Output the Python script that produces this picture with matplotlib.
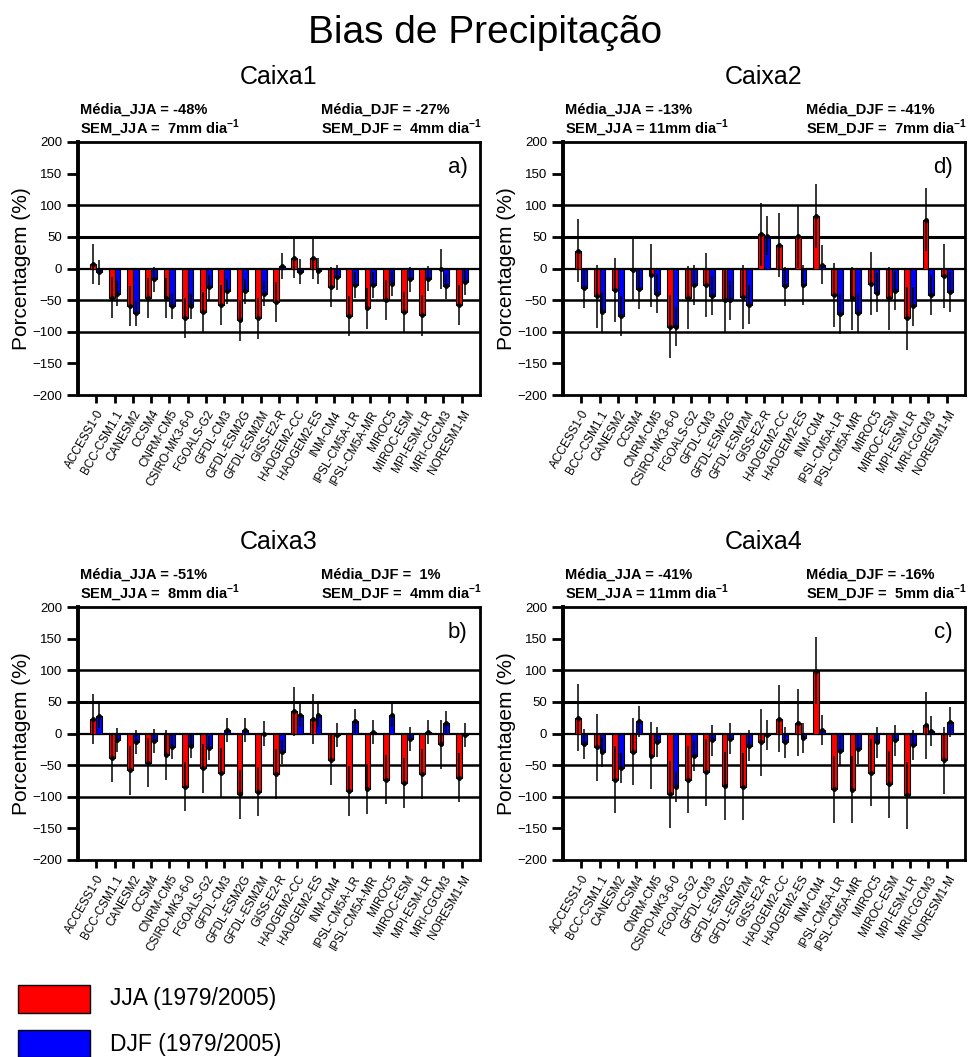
import numpy as np
import matplotlib.pyplot as plt
from matplotlib.patches import Rectangle

plt.rcParams['font.family'] = ['Liberation Sans', 'DejaVu Sans']
plt.rcParams['mathtext.fontset'] = 'custom'
plt.rcParams['mathtext.rm'] = 'Liberation Sans'
plt.rcParams['mathtext.bf'] = 'Liberation Sans:bold'

models = ['ACCESS1-0', 'BCC-CSM1.1', 'CANESM2', 'CCSM4', 'CNRM-CM5', 'CSIRO-MK3-6-0',
          'FGOALS-G2', 'GFDL-CM3', 'GFDL-ESM2G', 'GFDL-ESM2M', 'GISS-E2-R', 'HADGEM2-CC',
          'HADGEM2-ES', 'INM-CM4', 'IPSL-CM5A-LR', 'IPSL-CM5A-MR', 'MIROC5', 'MIROC-ESM',
          'MPI-ESM-LR', 'MRI-CGCM3', 'NORESM1-M']

# bias (%) por modelo, JJA e DJF
caixa1_jja = [7, -46, -59, -47, -47, -78, -69, -58, -82, -79, -53, 17, 16, -29, -75, -63, -50, -69, -74, -1, -58]
caixa1_djf = [-6, -40, -71, -17, -60, -60, -30, -36, -36, -40, 4, -5, -4, -14, -26, -26, -24, -17, -16, -28, -22]
caixa2_jja = [28, -44, -34, -2, -11, -92, -46, -26, -50, -45, 54, 37, 51, 83, -42, -47, -24, -47, -79, 77, -12]
caixa2_djf = [-31, -69, -75, -33, -40, -92, -26, -43, -50, -57, 52, -28, -26, 6, -72, -71, -38, -35, -60, -42, -37]
caixa3_jja = [23, -38, -58, -46, -34, -84, -55, -62, -96, -92, -64, 35, 23, -42, -91, -88, -73, -78, -64, -17, -70]
caixa3_djf = [28, -11, -14, -12, -22, -20, -23, 6, 6, 0, -29, 30, 30, -3, 20, 3, 30, -9, 3, 16, -3]
caixa4_jja = [25, -22, -73, -29, -35, -96, -73, -61, -83, -84, -14, 23, 17, 99, -88, -89, -62, -80, -98, 13, -42]
caixa4_djf = [-17, -29, -55, 19, -13, -85, -35, -11, -8, -19, -2, -14, -7, 6, -28, -25, -14, -11, -18, 4, 18]

# barras de erro (%)
erro_jja = [32, 50, 39, 53]
erro_djf = [20, 31, 19, 24]

titulos = ['Caixa1', 'Caixa2', 'Caixa3', 'Caixa4']
letras = ['a)', 'd)', 'b)', 'c)']
media_jja = ['-48%', '-13%', '-51%', '-41%']
media_djf = ['-27%', '-41%', ' 1%', '-16%']
sem_jja = [' 7', '11', ' 8', '11']
sem_djf = [' 4', ' 7', ' 4', ' 5']

W, H = 970, 1057
fig = plt.figure(figsize=(W / 100, H / 100), dpi=100)

# posicoes dos paineis em pixels (esq, topo)
posicoes = [(78, 142), (563, 142), (78, 607), (563, 607)]
larg, alt = 402, 253

jja_all = [caixa1_jja, caixa2_jja, caixa3_jja, caixa4_jja]
djf_all = [caixa1_djf, caixa2_djf, caixa3_djf, caixa4_djf]

x = np.arange(1, len(models) + 1)
w = 0.32

for i in range(4):
  l, t = posicoes[i]
  ax = fig.add_axes([l / W, (H - t - alt) / H, larg / W, alt / H])
  jja = np.array(jja_all[i])
  djf = np.array(djf_all[i])

  for yv, lw in [(100, 1.8), (50, 2.2), (0, 1.6), (-50, 1.8), (-100, 1.8)]:
    ax.axhline(yv, color='black', lw=lw, zorder=1)

  ax.bar(x - w / 2, jja, width=w, color='#ff0000', edgecolor='black', lw=0.8, zorder=2)
  ax.bar(x + w / 2, djf, width=w, color='#0000ff', edgecolor='black', lw=0.8, zorder=2)
  ax.errorbar(x - w / 2, jja, yerr=erro_jja[i], fmt='none', ecolor='black', elinewidth=1.1, zorder=3)
  ax.errorbar(x + w / 2, djf, yerr=erro_djf[i], fmt='none', ecolor='black', elinewidth=1.1, zorder=3)
  ax.plot(x - w / 2, jja, 'o', color='black', ms=2.5, zorder=4)
  ax.plot(x + w / 2, djf, 'o', color='black', ms=2.5, zorder=4)

  ax.set_xlim(0, 22)
  ax.set_ylim(-200, 200)
  ax.set_yticks(np.arange(-200, 201, 50))
  ax.set_xticks(x)
  ax.set_xticklabels(models, rotation=60, ha='right', rotation_mode='anchor', fontsize=8.5)
  ax.tick_params(axis='y', labelsize=9.5, length=8, width=2, direction='out')
  ax.tick_params(axis='x', length=6, width=2, direction='out')
  for s in ax.spines.values():
    s.set_linewidth(2)
  ax.spines['left'].set_linewidth(2.8)
  ax.set_ylabel('Porcentagem (%)', fontsize=15, labelpad=1)

  ax.text(0.5, 1.257, titulos[i], transform=ax.transAxes, ha='center', va='center', fontsize=18)
  kw = dict(transform=ax.transAxes, va='center', fontsize=10.5, fontweight='bold')
  ax.text(0.005, 1.126, 'Média_JJA = ' + media_jja[i], **kw)
  ax.text(0.005, 1.059, 'SEM_JJA = ' + sem_jja[i] + r'mm dia$^{\mathbf{-1}}$', **kw)
  ax.text(0.604, 1.126, 'Média_DJF = ' + media_djf[i], **kw)
  ax.text(0.604, 1.059, 'SEM_DJF = ' + sem_djf[i] + r'mm dia$^{\mathbf{-1}}$', **kw)
  ax.text(0.945, 0.90, letras[i], transform=ax.transAxes, ha='center', va='center', fontsize=16)

fig.text(485 / W, 1 - 33 / H, 'Bias de Precipitação', ha='center', va='center', fontsize=28)

# legenda
fig.add_artist(Rectangle((18 / W, 44 / H), 72 / W, 28 / H, facecolor='#ff0000',
                         edgecolor='black', lw=1, transform=fig.transFigure))
fig.add_artist(Rectangle((18 / W, 0.0), 72 / W, 27 / H, facecolor='#0000ff',
                         edgecolor='black', lw=1, transform=fig.transFigure))
fig.text(110 / W, 1 - 998 / H, 'JJA (1979/2005)', va='center', fontsize=16.5)
fig.text(110 / W, 1 - 1044 / H, 'DJF (1979/2005)', va='center', fontsize=16.5)

fig.savefig('out.png', dpi=100)
